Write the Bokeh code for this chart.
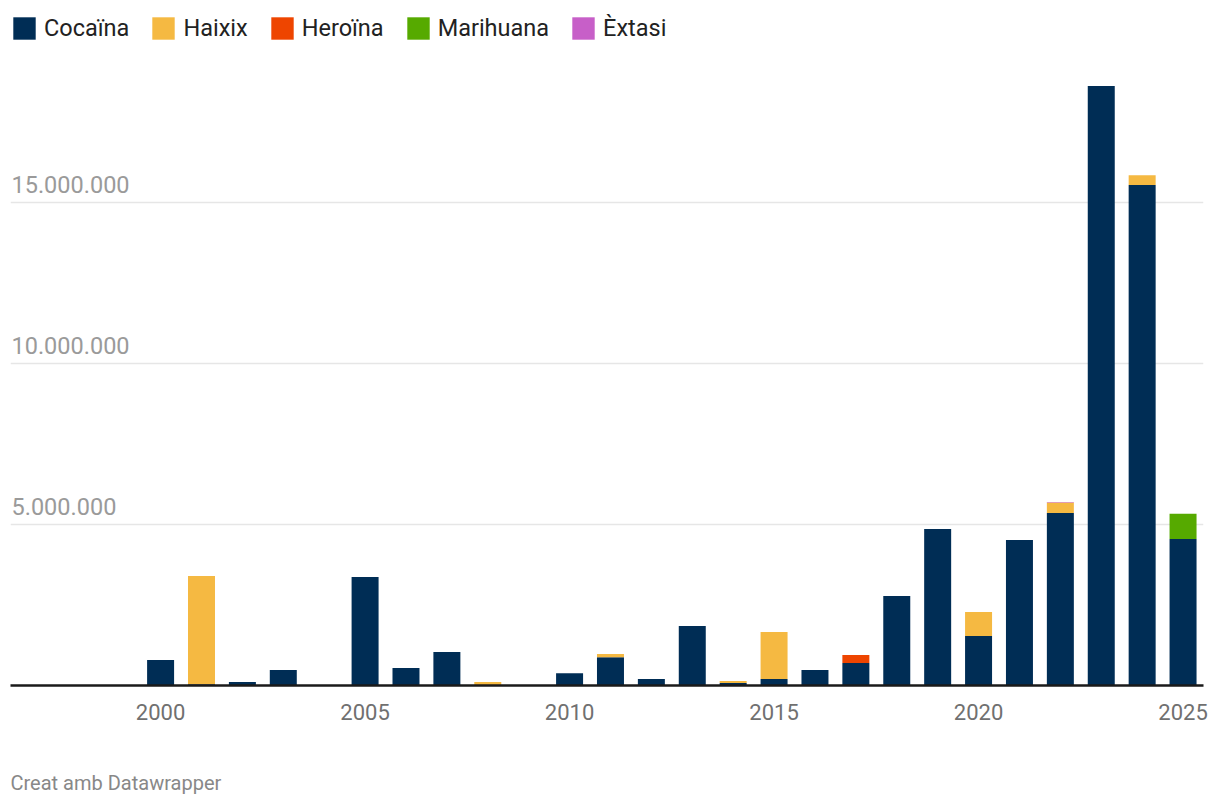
from bokeh.plotting import figure
from bokeh.models import ColumnDataSource, Range1d, FixedTicker, Title
from bokeh.core.properties import value
from bokeh.embed import file_html
from bokeh.resources import INLINE

years = list(range(2000, 2026))
cocaina = [790000, 40000, 110000, 480000, 0, 3370000, 540000, 1040000, 0, 0,
           380000, 880000, 200000, 1850000, 80000, 200000, 480000, 700000,
           2780000, 4860000, 1540000, 4520000, 5360000, 18620000, 15540000, 4550000]
haixix = [0, 3360000, 0, 0, 0, 0, 0, 0, 110000, 0,
          0, 100000, 0, 0, 60000, 1460000, 0, 0,
          0, 0, 740000, 0, 320000, 0, 310000, 0]
heroina = [0] * 17 + [250000] + [0] * 8
marihuana = [0] * 25 + [780000]
extasi = [0] * 22 + [15000] + [0] * 3

series_names = ["Cocaïna", "Haixix", "Heroïna", "Marihuana", "Èxtasi"]
series_keys = ["cocaina", "haixix", "heroina", "marihuana", "extasi"]
series_colors = ["#002d55", "#f5b942", "#ee4500", "#56aa00", "#c75fc8"]

xtick_values = [2000, 2005, 2010, 2015, 2020, 2025]
ytick_values = [5000000, 10000000, 15000000]
ytick_labels = ["5.000.000", "10.000.000", "15.000.000"]

FONT = "Roboto"

src = ColumnDataSource(dict(year=years, cocaina=cocaina, haixix=haixix,
                            heroina=heroina, marihuana=marihuana, extasi=extasi))

x0, x1 = 1996.33, 2025.5
y_top = 15000000 * (685 - 14) / (685 - 202)

p = figure(width=1220, height=808, output_backend="svg", toolbar_location=None,
           x_range=Range1d(x0, x1), y_range=Range1d(0, y_top),
           y_axis_location=None,
           min_border_left=10, min_border_right=17, min_border_top=14,
           min_border_bottom=123)
p.outline_line_color = None
p.background_fill_color = "white"
p.border_fill_color = "white"

p.vbar_stack(series_keys, x="year", width=0.66, color=series_colors, source=src,
             line_color=None, legend_label=series_names)

# grid
p.xgrid.visible = False
p.ygrid.ticker = FixedTicker(ticks=ytick_values)
p.ygrid.grid_line_color = "#e6e6e6"
p.ygrid.grid_line_width = 1.5
p.ygrid.level = "underlay"

# y tick labels inside plot
lab_src = ColumnDataSource(dict(x=[x0] * len(ytick_values), y=ytick_values, t=ytick_labels))
p.text(x="x", y="y", text="t", source=lab_src, text_font=value(FONT),
       text_font_size="23.5px", text_color="#9a9a9a", text_baseline="alphabetic",
       text_align="left", x_offset=1, y_offset=-18)

# x axis
ax = p.xaxis[0]
ax.ticker = FixedTicker(ticks=xtick_values)
ax.axis_line_color = "#1a1a1a"
ax.axis_line_width = 2.5
ax.major_tick_line_color = None
ax.minor_tick_line_color = None
ax.major_label_text_font = FONT
ax.major_label_text_font_size = "22px"
ax.major_label_text_color = "#707070"
ax.major_label_standoff = 12

# legend
lg = p.legend[0]
lg.location = "top_left"
lg.orientation = "horizontal"
lg.margin = 0
lg.padding = 0
lg.spacing = 20
lg.glyph_width = 28
lg.glyph_height = 28
lg.label_standoff = 6
lg.label_text_font = FONT
lg.label_text_font_size = "23.5px"
lg.label_text_color = "#222222"
lg.background_fill_alpha = 0
lg.border_line_color = None

spacer = Title(text=" ", align="left", text_font=FONT, text_font_size="20px",
               text_color="white", standoff=20)
p.add_layout(spacer, "below")
credit = Title(text="Creat amb Datawrapper", align="left", text_font=FONT,
               text_font_size="20px", text_font_style="normal", text_color="#888888",
               standoff=0)
p.add_layout(credit, "below")

open("out.html", "w").write(file_html(p, INLINE))
